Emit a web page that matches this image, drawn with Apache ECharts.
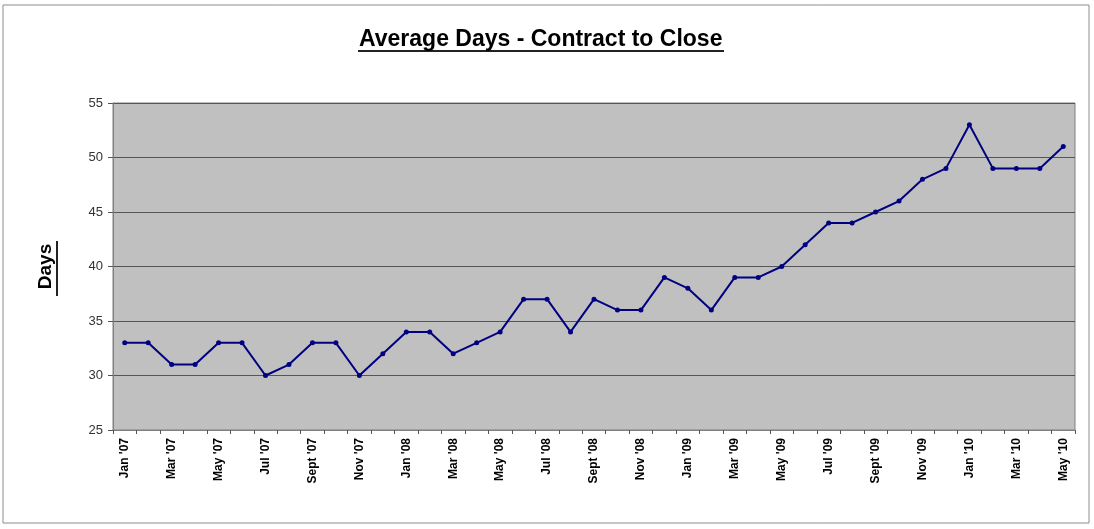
<!DOCTYPE html>
<html>
<head>
<meta charset="utf-8">
<script src="https://cdn.jsdelivr.net/npm/echarts@6/dist/echarts.min.js"></script>
<style>
  html, body { margin: 0; padding: 0; background: #fff; }
  #chart { width: 1094px; height: 529px; }
</style>
</head>
<body>
<div id="chart"></div>
<script>
// month labels, Jan '07 .. May '10
const months = [
  "Jan '07", "Feb '07", "Mar '07", "Apr '07", "May '07", "Jun '07",
  "Jul '07", "Aug '07", "Sept '07", "Oct '07", "Nov '07", "Dec '07",
  "Jan '08", "Feb '08", "Mar '08", "Apr '08", "May '08", "Jun '08",
  "Jul '08", "Aug '08", "Sept '08", "Oct '08", "Nov '08", "Dec '08",
  "Jan '09", "Feb '09", "Mar '09", "Apr '09", "May '09", "Jun '09",
  "Jul '09", "Aug '09", "Sept '09", "Oct '09", "Nov '09", "Dec '09",
  "Jan '10", "Feb '10", "Mar '10", "Apr '10", "May '10"
];

// average days contract to close
const avgDays = [
  33, 33, 31, 31, 33, 33, 30, 31, 33, 33, 30, 32,
  34, 34, 32, 33, 34, 37, 37, 34, 37, 36, 36, 39,
  38, 36, 39, 39, 40, 42, 44, 44, 45, 46, 48, 49,
  53, 49, 49, 49, 51
];

const yTicks = { min: 25, max: 55, step: 5 };

const chart = echarts.init(document.getElementById('chart'));

const option = {
  animation: false,
  backgroundColor: '#fff',
  title: {
    text: 'Average Days - Contract to Close',
    left: 354,
    top: 23,
    textStyle: { fontFamily: 'Liberation Sans', fontWeight: 'bold', fontSize: 23, color: '#000' }
  },
  graphic: [
    // outer frame
    { type: 'rect', shape: { x: 3, y: 5, width: 1086, height: 518 },
      style: { fill: 'none', stroke: '#8c8c8c', lineWidth: 1 }, silent: true },
    // title underline
    { type: 'line', shape: { x1: 358, y1: 51, x2: 724, y2: 51 },
      style: { stroke: '#222', lineWidth: 2 }, silent: true },
    // axis name underline
    { type: 'line', shape: { x1: 57, y1: 241, x2: 57, y2: 296 },
      style: { stroke: '#222', lineWidth: 2 }, silent: true }
  ],
  grid: {
    left: 113, right: 19, top: 103, bottom: 99,
    show: true,
    backgroundColor: '#c0c0c0',
    borderColor: '#808080',
    borderWidth: 1
  },
  xAxis: {
    type: 'category',
    data: months,
    boundaryGap: true,
    axisLine: { show: true, lineStyle: { color: '#808080', width: 1 } },
    axisTick: { show: true, interval: 0, length: 4, lineStyle: { color: '#555' } },
    axisLabel: {
      interval: 1,
      rotate: 90,
      margin: 8,
      fontFamily: 'Liberation Sans',
      fontWeight: 'bold',
      fontSize: 12,
      color: '#000'
    },
    splitLine: { show: false }
  },
  yAxis: {
    type: 'value',
    min: yTicks.min,
    max: yTicks.max,
    interval: yTicks.step,
    name: 'Days',
    nameLocation: 'middle',
    nameGap: 58,
    nameRotate: 90,
    nameTextStyle: { fontFamily: 'Liberation Sans', fontWeight: 'bold', fontSize: 19, color: '#000' },
    axisLine: { show: true, lineStyle: { color: '#808080' } },
    axisTick: { show: true, length: 5, lineStyle: { color: '#555' } },
    axisLabel: { fontFamily: 'Liberation Sans', fontSize: 13, color: '#333', margin: 10 },
    splitLine: { show: true, lineStyle: { color: '#555', width: 1 } }
  },
  series: [{
    type: 'line',
    data: avgDays,
    symbol: 'circle',
    symbolSize: 5,
    lineStyle: { color: '#000080', width: 2 },
    itemStyle: { color: '#000080' }
  }]
};

chart.setOption(option);
</script>
</body>
</html>
